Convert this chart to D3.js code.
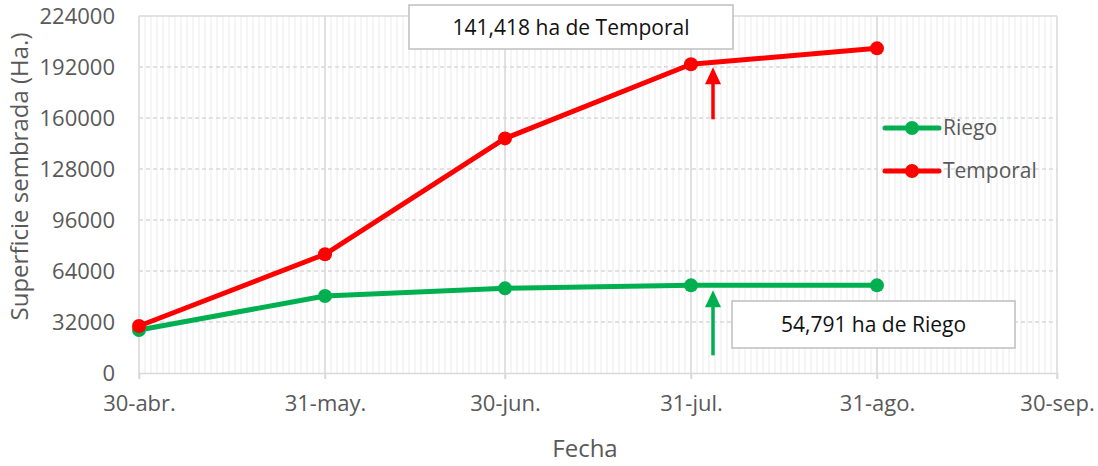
<!DOCTYPE html>
<html lang="es">
<head>
<meta charset="utf-8">
<script src="https://d3js.org/d3.v7.min.js"></script>
<title>Superficie sembrada</title>
<style>
  body { margin: 0; background: #fff; }
</style>
</head>
<body>
<div id="chart"></div>
<script>
// data
var fechas = ["2019-04-30", "2019-05-31", "2019-06-30", "2019-07-31", "2019-08-31"];
var riego = [27000, 48300, 53100, 55000, 55000];
var temporal = [29500, 74500, 147200, 193700, 203700];
var tickFechas = ["2019-04-30", "2019-05-31", "2019-06-30", "2019-07-31", "2019-08-31", "2019-09-30"];
var tickLabels = ["30-abr.", "31-may.", "30-jun.", "31-jul.", "31-ago.", "30-sep."];
var yTicks = [0, 32000, 64000, 96000, 128000, 160000, 192000, 224000];
var seriesNames = ["Riego", "Temporal"];
var seriesColors = ["#00B050", "#FF0000"];
var notaTemporal = "141,418 ha de Temporal";
var notaRiego = "54,791 ha de Riego";

var parse = d3.timeParse("%Y-%m-%d");
var W = 1098, H = 466;
var margin = {top: 16, right: 41, bottom: 93, left: 139};
var width = W - margin.left - margin.right,
    height = H - margin.top - margin.bottom;
var FONT = "Open Sans, sans-serif";

var svg = d3.select("#chart").append("svg")
    .attr("width", W).attr("height", H)
    .attr("font-family", FONT);
var g = svg.append("g")
    .attr("transform", "translate(" + margin.left + "," + margin.top + ")");

var x = d3.scaleTime()
    .domain([parse(tickFechas[0]), parse(tickFechas[tickFechas.length - 1])])
    .range([0, width]);
var y = d3.scaleLinear()
    .domain([0, 224000])
    .range([height, 0]);

// minor daily gridlines
g.append("g").selectAll("line")
    .data(d3.timeDay.range(x.domain()[0], x.domain()[1]))
    .join("line")
    .attr("x1", function(d){ return x(d); }).attr("x2", function(d){ return x(d); })
    .attr("y1", 0).attr("y2", height)
    .attr("stroke", "#efefef").attr("stroke-width", 1.2);

// horizontal gridlines (dashed)
g.append("g").selectAll("line")
    .data(yTicks.slice(1, -1))
    .join("line")
    .attr("x1", 0).attr("x2", width)
    .attr("y1", function(d){ return y(d); }).attr("y2", function(d){ return y(d); })
    .attr("stroke", "#d9d9d9").attr("stroke-width", 1.5)
    .attr("stroke-dasharray", "4,3");

// top line
g.append("line")
    .attr("x1", 0).attr("x2", width)
    .attr("y1", y(224000)).attr("y2", y(224000))
    .attr("stroke", "#d9d9d9").attr("stroke-width", 1.5);

// major vertical gridlines
g.append("g").selectAll("line")
    .data(tickFechas)
    .join("line")
    .attr("x1", function(d){ return x(parse(d)); }).attr("x2", function(d){ return x(parse(d)); })
    .attr("y1", 0).attr("y2", height + 6)
    .attr("stroke", "#d9d9d9").attr("stroke-width", 1.5);

// x axis
var xAxis = g.append("g")
    .attr("transform", "translate(0," + height + ")")
    .call(d3.axisBottom(x)
        .tickValues(tickFechas.map(parse))
        .tickFormat(function(d, i){ return tickLabels[i]; })
        .tickSize(6));
xAxis.select(".domain").attr("stroke", "#d9d9d9").attr("stroke-width", 1.5);
xAxis.selectAll(".tick line").attr("stroke", "#d9d9d9").attr("stroke-width", 1.5);
xAxis.selectAll(".tick text")
    .attr("fill", "#595959").attr("font-size", "22px")
    .attr("font-family", FONT)
    .attr("y", 38).attr("dy", 0);

// y axis
var yAxis = g.append("g")
    .call(d3.axisLeft(y).tickValues(yTicks).tickFormat(d3.format("d")).tickSize(0));
yAxis.select(".domain").remove();
yAxis.selectAll(".tick text")
    .attr("fill", "#595959").attr("font-size", "22px")
    .attr("font-family", FONT)
    .attr("x", -24);

// axis titles
svg.append("text")
    .attr("text-anchor", "middle")
    .attr("transform", "translate(28," + (margin.top + height / 2 - 18) + ") rotate(-90)")
    .attr("fill", "#595959").attr("font-size", "24px")
    .text("Superficie sembrada (Ha.)");
svg.append("text")
    .attr("text-anchor", "middle")
    .attr("x", 585).attr("y", 457)
    .attr("fill", "#595959").attr("font-size", "24px")
    .text("Fecha");

// series
var seriesData = [riego, temporal];
var line = d3.line()
    .x(function(d){ return x(parse(d.f)); })
    .y(function(d){ return y(d.v); });
seriesData.forEach(function(vals, s){
    var pts = vals.map(function(v, i){ return {f: fechas[i], v: v}; });
    g.append("path").datum(pts)
        .attr("d", line)
        .attr("fill", "none")
        .attr("stroke", seriesColors[s]).attr("stroke-width", 5)
        .attr("stroke-linejoin", "round");
    g.append("g").selectAll("circle").data(pts).join("circle")
        .attr("cx", function(d){ return x(parse(d.f)); })
        .attr("cy", function(d){ return y(d.v); })
        .attr("r", 7)
        .attr("fill", seriesColors[s]);
});

// legend
var legend = svg.append("g").attr("transform", "translate(885,128)");
seriesNames.forEach(function(n, i){
    var lg = legend.append("g").attr("transform", "translate(0," + (i * 43) + ")");
    lg.append("line").attr("x1", 0).attr("x2", 54).attr("y1", 0).attr("y2", 0)
        .attr("stroke", seriesColors[i]).attr("stroke-width", 5).attr("stroke-linecap", "round");
    lg.append("circle").attr("cx", 27).attr("cy", 0).attr("r", 7).attr("fill", seriesColors[i]);
    lg.append("text").attr("x", 58).attr("y", 0).attr("dy", "0.35em")
        .attr("fill", "#595959").attr("font-size", "21px").text(n);
});

// annotations: arrows
var arrowX = x(parse(fechas[3])) + 22;
function arrow(yStart, yEnd, color){
    g.append("line")
        .attr("x1", arrowX).attr("x2", arrowX)
        .attr("y1", yStart).attr("y2", yEnd + 14)
        .attr("stroke", color).attr("stroke-width", 3.5);
    g.append("path")
        .attr("d", "M" + (arrowX - 8) + "," + (yEnd + 17) + "L" + arrowX + "," + yEnd + "L" + (arrowX + 8) + "," + (yEnd + 17) + "Z")
        .attr("fill", color);
}
arrow(y(temporal[3]) + 55, y(temporal[3]) + 3, seriesColors[1]);
arrow(y(riego[3]) + 70, y(riego[3]) + 5, seriesColors[0]);

// annotation boxes
function nota(bx, by, bw, bh, txt){
    svg.append("rect")
        .attr("x", bx).attr("y", by).attr("width", bw).attr("height", bh)
        .attr("fill", "#fff").attr("stroke", "#bfbfbf").attr("stroke-width", 1.5);
    svg.append("text")
        .attr("x", bx + bw / 2).attr("y", by + bh / 2).attr("dy", "0.36em")
        .attr("text-anchor", "middle")
        .attr("fill", "#111").attr("font-size", "21px")
        .attr("font-family", FONT)
        .text(txt);
}
nota(409, 5, 324, 44, notaTemporal);
nota(732, 301, 283, 47, notaRiego);
</script>
</body>
</html>
